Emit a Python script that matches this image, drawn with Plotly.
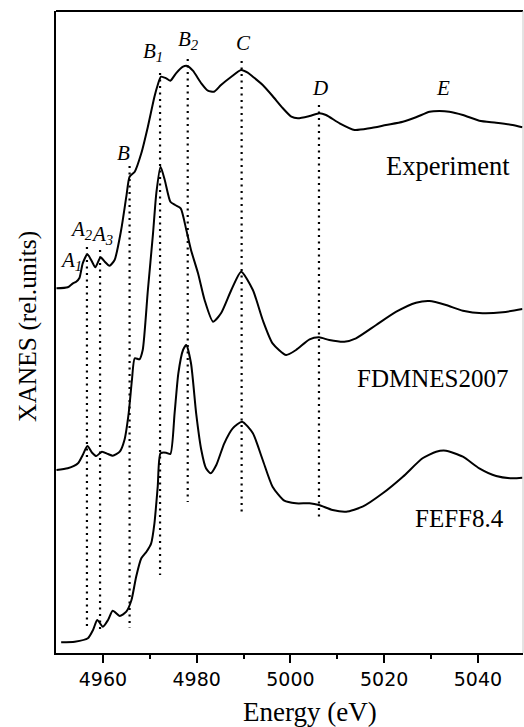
import plotly.graph_objects as go

# ---------------- data ----------------
exp_energy = [4950.1, 4952.5, 4953.6, 4954.3, 4955.0, 4955.7, 4956.7, 4957.5, 4958.4, 4959.5,
              4960.4, 4961.4, 4962.5, 4963.9, 4965.0, 4965.7, 4966.8, 4968.2, 4969.6, 4971.0,
              4971.7, 4972.4, 4973.5, 4974.4, 4975.6, 4977.1, 4978.0, 4979.2, 4981.0, 4982.4,
              4983.7, 4985.2, 4987.4, 4989.5, 4990.9, 4992.0, 4994.1, 4996.2, 4998.4, 5000.2,
              5001.6, 5004.1, 5006.2, 5007.6, 5010.5, 5013.7, 5016.9, 5020.4, 5024.0, 5026.8,
              5029.7, 5031.8, 5033.9, 5036.8, 5040.3, 5043.9, 5047.4, 5049.5]
exp_xanes = [3.647, 3.657, 3.697, 3.713, 3.750, 3.897, 3.987, 3.930, 3.857, 3.957,
             3.913, 3.873, 3.930, 4.230, 4.563, 4.763, 4.813, 4.997, 5.263, 5.563,
             5.680, 5.763, 5.747, 5.723, 5.797, 5.863, 5.870, 5.823, 5.697, 5.623,
             5.613, 5.680, 5.763, 5.830, 5.803, 5.763, 5.680, 5.570, 5.447, 5.363,
             5.347, 5.370, 5.397, 5.380, 5.297, 5.230, 5.247, 5.280, 5.313, 5.357,
             5.413, 5.420, 5.413, 5.380, 5.323, 5.303, 5.280, 5.257]

fdm_energy = [4950.1, 4952.5, 4954.7, 4955.7, 4956.7, 4957.7, 4958.6, 4959.8, 4961.1, 4962.1,
              4963.6, 4964.6, 4965.5, 4966.2, 4966.8, 4967.8, 4968.5, 4969.6, 4970.7, 4971.4,
              4972.3, 4973.2, 4974.4, 4975.4, 4976.6, 4977.8, 4978.8, 4980.3, 4981.7, 4983.5,
              4985.2, 4987.4, 4989.5, 4992.0, 4994.1, 4996.2, 4999.1, 5001.2, 5004.1, 5006.1,
              5008.3, 5011.5, 5014.0, 5018.3, 5022.6, 5026.8, 5029.7, 5033.2, 5036.8, 5041.0,
              5045.3, 5049.5]
fdm_xanes = [1.830, 1.847, 1.897, 1.980, 2.070, 2.003, 1.970, 2.013, 1.990, 1.973,
             2.013, 2.130, 2.397, 2.730, 2.947, 2.937, 3.030, 3.630, 4.197, 4.597,
             4.863, 4.730, 4.513, 4.480, 4.447, 4.230, 4.030, 3.797, 3.530, 3.313,
             3.397, 3.630, 3.813, 3.630, 3.330, 3.097, 2.980, 3.030, 3.137, 3.157,
             3.130, 3.113, 3.147, 3.280, 3.413, 3.503, 3.520, 3.480, 3.423, 3.397,
             3.407, 3.440]

feff_energy = [4951.1, 4954.0, 4956.8, 4957.9, 4958.8, 4960.0, 4961.1, 4962.1, 4963.6, 4965.0,
               4966.1, 4967.1, 4968.2, 4969.3, 4970.3, 4971.0, 4971.7, 4972.3, 4973.5, 4974.4,
               4975.3, 4976.1, 4977.1, 4977.8, 4978.8, 4979.9, 4981.0, 4982.0, 4983.0, 4984.2,
               4985.9, 4987.7, 4989.7, 4992.0, 4994.1, 4996.2, 4998.7, 5001.2, 5004.1, 5006.1,
               5009.0, 5011.9, 5015.4, 5019.7, 5024.0, 5028.2, 5031.1, 5033.2, 5036.8, 5040.3,
               5043.9, 5047.4, 5049.5]
feff_xanes = [0.107, 0.113, 0.147, 0.230, 0.330, 0.263, 0.330, 0.423, 0.370, 0.413,
              0.530, 0.763, 0.947, 1.013, 1.097, 1.297, 1.663, 1.997, 2.003, 1.990,
              2.397, 2.797, 3.030, 3.080, 2.897, 2.397, 2.030, 1.847, 1.797, 1.880,
              2.097, 2.247, 2.313, 2.197, 1.930, 1.663, 1.523, 1.497, 1.497, 1.480,
              1.430, 1.413, 1.463, 1.597, 1.763, 1.947, 2.013, 2.023, 1.963, 1.847,
              1.770, 1.747, 1.753]

# feature markers (dotted lines)
feature_names = ["A2", "A3", "B", "B1", "B2", "C", "D"]
feature_energy = [4956.6, 4959.4, 4965.7, 4972.2, 4978.1, 4989.6, 5006.1]
feature_top = [4.06, 4.03, 4.87, 5.80, 5.94, 5.92, 5.48]
feature_bottom = [0.23, 0.20, 0.25, 0.78, 1.51, 1.40, 1.35]

series_names = ["Experiment", "FDMNES2007", "FEFF8.4"]
tick_vals = [4960, 4980, 5000, 5020, 5040]
minor_tick_vals = [4970, 4990, 5010, 5030]

# ---------------- layout helpers (pixel geometry) ----------------
W, H = 524, 727
ML, MR, MT, MB = 56, 1, 11, 74
X0, X1 = 4950.0, 4950.0 + (W - ML - MR) / 4.6875
Y0, Y1 = 0.0, (H - MT - MB) / 100.0


def px2x(px):
    return X0 + (px - ML) / 4.6875


def py2y(py):
    return (H - MB - py) / 100.0


SERIF = "Liberation Serif"
SANS = "DejaVu Sans"

fig = go.Figure()

for ex, top, bot in zip(feature_energy, feature_top, feature_bottom):
    fig.add_trace(go.Scatter(x=[ex, ex], y=[top, bot], mode="lines",
                             line=dict(color="black", width=2.2, dash="2px,4.5px"),
                             showlegend=False, hoverinfo="skip"))

for xs, ys, nm in [(exp_energy, exp_xanes, series_names[0]),
                   (fdm_energy, fdm_xanes, series_names[1]),
                   (feff_energy, feff_xanes, series_names[2])]:
    fig.add_trace(go.Scatter(x=xs, y=ys, mode="lines", name=nm,
                             line=dict(color="black", width=2, shape="spline", smoothing=0.6),
                             showlegend=False))

annotations = []
# series labels
for txt, px, py, sz in [(series_names[0], 448, 166, 26.5), (series_names[1], 432, 378, 25),
                        (series_names[2], 459, 518, 25)]:
    annotations.append(dict(x=px2x(px), y=py2y(py), text=txt, showarrow=False,
                            xanchor="center", yanchor="middle",
                            font=dict(family=SERIF, size=sz, color="black")))

# feature labels
feat_labels = [("<i>A<sub>1</sub></i>", 70.5, 261), ("<i>A<sub>2</sub></i>", 81.5, 230),
               ("<i>A<sub>3</sub></i>", 101.5, 235), ("<i>B</i>", 123, 153),
               ("<i>B<sub>1</sub></i>", 152.5, 52), ("<i>B<sub>2</sub></i>", 188.5, 40),
               ("<i>C</i>", 243, 43), ("<i>D</i>", 320, 88), ("<i>E</i>", 443, 88)]
for txt, px, py in feat_labels:
    annotations.append(dict(x=px2x(px), y=py2y(py), text=txt, showarrow=False,
                            xanchor="center", yanchor="middle",
                            font=dict(family=SERIF, size=21, color="black")))

# y-axis title
annotations.append(dict(xref="paper", yref="paper", x=(27 - ML) / (W - ML - MR),
                        y=(H - MB - 327) / (H - MT - MB), text="XANES (rel.units)",
                        textangle=-90, showarrow=False, xanchor="center", yanchor="middle",
                        font=dict(family=SERIF, size=25.5, color="black")))
# x-axis title
annotations.append(dict(xref="paper", yref="paper", x=(310 - ML) / (W - ML - MR),
                        y=-(712 - (H - MB)) / (H - MT - MB), text="Energy (eV)",
                        showarrow=False, xanchor="center", yanchor="middle",
                        font=dict(family=SERIF, size=27, color="black")))

shapes = [
    dict(type="line", xref="paper", yref="paper", x0=0, x1=1, y0=1, y1=1,
         line=dict(color="black", width=2)),
    dict(type="line", xref="paper", yref="paper", x0=1, x1=1, y0=0, y1=1,
         line=dict(color="#c8c8c8", width=1)),
]

fig.update_layout(
    width=W, height=H,
    margin=dict(l=ML, r=MR, t=MT, b=MB, pad=0),
    paper_bgcolor="white", plot_bgcolor="white",
    showlegend=False,
    font=dict(family=SERIF),
    annotations=annotations,
    shapes=shapes,
    xaxis=dict(range=[X0, X1], showgrid=False, zeroline=False,
               showline=True, linecolor="black", linewidth=2,
               ticks="outside", ticklen=8, tickwidth=1.5, tickcolor="black",
               tickvals=tick_vals, ticktext=[str(v) for v in tick_vals],
               tickfont=dict(family=SANS, size=19, color="black"),
               minor=dict(tickvals=minor_tick_vals, ticks="outside", ticklen=4,
                          tickwidth=1.5, tickcolor="black")),
    yaxis=dict(range=[Y0, Y1], showgrid=False, zeroline=False,
               showline=True, linecolor="black", linewidth=2,
               ticks="", showticklabels=False),
)

fig.write_html("out.html")
